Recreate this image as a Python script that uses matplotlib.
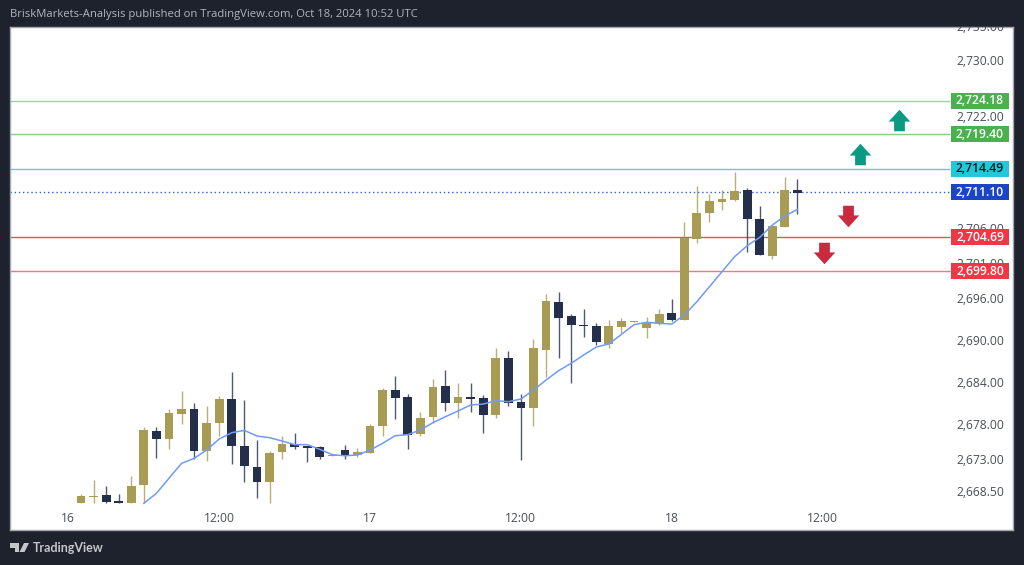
import matplotlib
matplotlib.use('Agg')
import matplotlib.pyplot as plt
from matplotlib.path import Path
from matplotlib.patches import Polygon, Rectangle

# one candle per hour, hour 0 = 16th 00:00
hours = list(range(1, 59))
opens = [2666.67, 2667.62, 2667.86, 2666.95, 2666.67, 2669.33, 2677.05, 2675.90, 2679.38, 2680.14,
         2674.09, 2678.09, 2681.52, 2674.86, 2671.90, 2669.76, 2673.95, 2675.14, 2674.86, 2674.66,
         2673.47, 2674.28, 2673.52, 2673.81, 2677.71, 2682.81, 2681.81, 2676.57, 2678.95, 2683.48,
         2681.05, 2681.81, 2681.67, 2679.33, 2687.38, 2681.14, 2680.33, 2688.57, 2695.48, 2693.38,
         2692.14, 2692.00, 2689.43, 2691.90, 2692.57, 2691.76, 2692.42, 2693.81, 2692.86, 2704.47,
         2708.09, 2709.76, 2710.00, 2711.38, 2707.33, 2702.04, 2706.14, 2711.38]
closes = [2667.71, 2667.76, 2666.81, 2666.67, 2669.14, 2677.09, 2675.90, 2679.57, 2680.14, 2674.09,
          2678.19, 2681.52, 2674.90, 2671.95, 2669.76, 2673.86, 2675.14, 2674.76, 2674.62, 2673.24,
          2673.62, 2673.52, 2674.00, 2677.76, 2682.81, 2681.76, 2676.48, 2678.90, 2683.33, 2681.05,
          2681.81, 2681.62, 2679.24, 2687.38, 2681.05, 2680.33, 2688.81, 2695.62, 2693.19, 2692.09,
          2691.95, 2689.71, 2692.00, 2692.71, 2692.67, 2692.42, 2693.66, 2692.86, 2704.62, 2708.14,
          2709.81, 2710.09, 2711.24, 2707.24, 2702.19, 2706.23, 2711.38, 2711.00]
highs = [2667.95, 2670.00, 2669.14, 2668.00, 2670.57, 2677.60, 2677.52, 2680.09, 2682.67, 2681.00,
         2680.57, 2682.00, 2685.43, 2681.43, 2675.71, 2674.19, 2676.28, 2676.66, 2674.86, 2674.86,
         2673.62, 2675.00, 2674.52, 2677.95, 2683.09, 2684.90, 2682.24, 2679.71, 2684.38, 2685.71,
         2683.81, 2683.90, 2682.09, 2688.81, 2688.43, 2682.28, 2690.19, 2696.57, 2696.86, 2693.71,
         2694.38, 2692.38, 2692.86, 2693.10, 2692.67, 2693.24, 2694.38, 2695.81, 2706.85, 2712.00,
         2710.85, 2711.43, 2714.05, 2711.66, 2709.14, 2706.23, 2713.23, 2713.05]
lows = [2666.67, 2666.67, 2666.67, 2666.67, 2666.67, 2666.67, 2673.09, 2674.38, 2678.00, 2672.95,
        2672.76, 2676.28, 2672.24, 2669.76, 2667.38, 2666.67, 2672.95, 2674.47, 2672.52, 2672.95,
        2673.47, 2672.95, 2673.24, 2673.81, 2676.33, 2678.67, 2674.38, 2676.28, 2678.09, 2679.90,
        2678.81, 2679.76, 2676.71, 2678.90, 2680.57, 2672.81, 2677.71, 2684.67, 2687.48, 2683.81,
        2690.38, 2689.28, 2688.81, 2690.95, 2692.57, 2690.24, 2692.14, 2692.76, 2692.86, 2703.90,
        2706.90, 2708.57, 2709.90, 2702.62, 2702.19, 2701.62, 2706.14, 2707.95]

ma_hours = list(range(6, 59))
ma_values = [2666.67, 2668.09, 2670.24, 2672.38, 2673.09, 2674.29, 2675.86, 2676.76, 2677.09, 2676.28,
             2676.05, 2675.57, 2675.05, 2675.05, 2674.38, 2673.62, 2673.47, 2673.57, 2674.28, 2675.24,
             2676.33, 2676.48, 2677.14, 2678.19, 2679.05, 2679.86, 2680.71, 2680.85, 2681.33, 2681.19,
             2681.57, 2682.85, 2684.28, 2685.62, 2686.67, 2687.86, 2689.00, 2689.43, 2690.81, 2692.19,
             2692.52, 2692.38, 2692.28, 2693.57, 2695.47, 2697.62, 2699.76, 2701.90, 2703.47, 2704.66,
             2706.42, 2707.71, 2708.66]

levels = [2724.18, 2719.40, 2714.49, 2711.10, 2704.69, 2699.80]
level_lines = ['#9ed4a0', '#8ccb8e', '#5ccbdc', '#2f5fe0', '#e8505f', '#ef7a85']
level_boxes = ['#4caf50', '#4caf50', '#26c6da', '#1a45c4', '#f23645', '#f23645']
level_text = ['white', 'white', '#131722', 'white', 'white', 'white']

price_ticks = [2730, 2722, 2706, 2701, 2696, 2690, 2684, 2678, 2673, 2668.5]
time_ticks = [0, 12, 24, 36, 48, 60]
time_labels = ['16', '12:00', '17', '12:00', '18', '12:00']

up_x = [63.0, 66.05]
up_y = [2716.57, 2721.36]
down_x = [62.05, 60.1]
down_y = [2707.71, 2702.36]

W, H = 1024, 565
BG = '#1e222d'
GOLD = '#a89b54'
DARK = '#232f4b'
LABEL = '#4a4e57'
plt.rcParams['font.family'] = ['Open Sans', 'DejaVu Sans']

fig = plt.figure(figsize=(W / 100, H / 100), dpi=100, facecolor=BG)
ax = fig.add_axes([10 / W, 1 - 530 / H, 1003 / W, 503 / H], facecolor='white')
ax.set_xlim(-4.646, 75.15)
ax.set_ylim(2662.86, 2734.71)
for s in ax.spines.values():
    s.set_color('#a3a6af')
    s.set_linewidth(1)

# levels
line_end = 70.1
for lv, c in zip(levels, level_lines):
    ls = (0, (1, 2)) if lv == 2711.10 else '-'
    ax.hlines(lv, -4.646, line_end, color=c, lw=1, linestyle=ls, zorder=1)

# candles
for h, o, c, hi, lo in zip(hours, opens, closes, highs, lows):
    col = GOLD if c >= o else DARK
    ax.vlines(h, lo, hi, color=col, lw=1, alpha=0.8, zorder=2)
    ax.bar(h, max(abs(c - o), 0.15), bottom=min(o, c), width=0.70, color=col, zorder=3)

ax.plot(ma_hours, ma_values, color='#6f9bf7', lw=1.1, zorder=4)

# arrows, same shape for both directions
shape = [(0, 0.5), (0.5, -0.05), (0.25, -0.05), (0.25, -0.5), (-0.25, -0.5), (-0.25, -0.05), (-0.5, -0.05), (0, 0.5)]
up_marker = Path(shape, closed=True)
down_marker = Path([(x, -y) for x, y in shape], closed=True)
ax.plot(up_x, up_y, ls='none', marker=up_marker, ms=15.5, color='#0a9981', mew=0, zorder=5)
ax.plot(down_x, down_y, ls='none', marker=down_marker, ms=15.5, color='#c92a3e', mew=0, zorder=5)

# price scale sits inside the white area
ax.yaxis.tick_right()
ax.set_yticks(price_ticks)
ax.set_yticklabels([f'{p:,.2f}' for p in price_ticks])
ax.tick_params(axis='y', length=0, pad=-6.5, labelsize=8.7, labelcolor=LABEL)
for t in ax.get_yticklabels():
    t.set_ha('right')
# top label is cut by the pane edge
ax.annotate('2,735.00', xy=(1, 2734.7), xycoords=('axes fraction', 'data'), xytext=(-9, 0),
            textcoords='offset pixels', ha='right', va='center', fontsize=8.7, color=LABEL,
            annotation_clip=False, clip_on=True)

ax.set_xticks(time_ticks)
ax.set_xticklabels(time_labels)
ax.tick_params(axis='x', length=0, pad=-13.2, labelsize=8.7, labelcolor=LABEL)

# price badges
badge_tr = ax.get_yaxis_transform()
for lv, bc, tc in zip(levels, level_boxes, level_text):
    ax.add_patch(Rectangle((941 / 1003, lv - 8 / 7), 58 / 1003, 16 / 7, transform=badge_tr,
                           fc=bc, ec='none', zorder=6))
    ax.text(970 / 1003, lv, f'{lv:,.2f}', transform=badge_tr, ha='center', va='center',
            fontsize=8.7, fontweight='semibold', color=tc, zorder=7)

fig.text(10 / W, 1 - 14 / H, 'BriskMarkets-Analysis published on TradingView.com, Oct 18, 2024 10:52 UTC',
         color='#b2b5be', fontsize=8.1, va='center', ha='left')
fig.text(33 / W, 1 - 548 / H, 'TradingView', color='#c4c6cd', fontsize=9, va='center', ha='left',
         family=['Lato', 'DejaVu Sans'], fontweight='bold')


def px(points):
    return [(x / W, 1 - y / H) for x, y in points]


logo = '#c4c6cd'
fig.add_artist(Polygon(px([(10, 543), (19, 543), (19, 552), (14.5, 552), (14.5, 547.5), (10, 547.5)]),
                       closed=True, fc=logo, ec='none', transform=fig.transFigure))
fig.add_artist(Polygon(px([(24, 543), (29, 543), (24.5, 552), (19.5, 552)]),
                       closed=True, fc=logo, ec='none', transform=fig.transFigure))

fig.savefig('out.png', dpi=100, facecolor=BG)
